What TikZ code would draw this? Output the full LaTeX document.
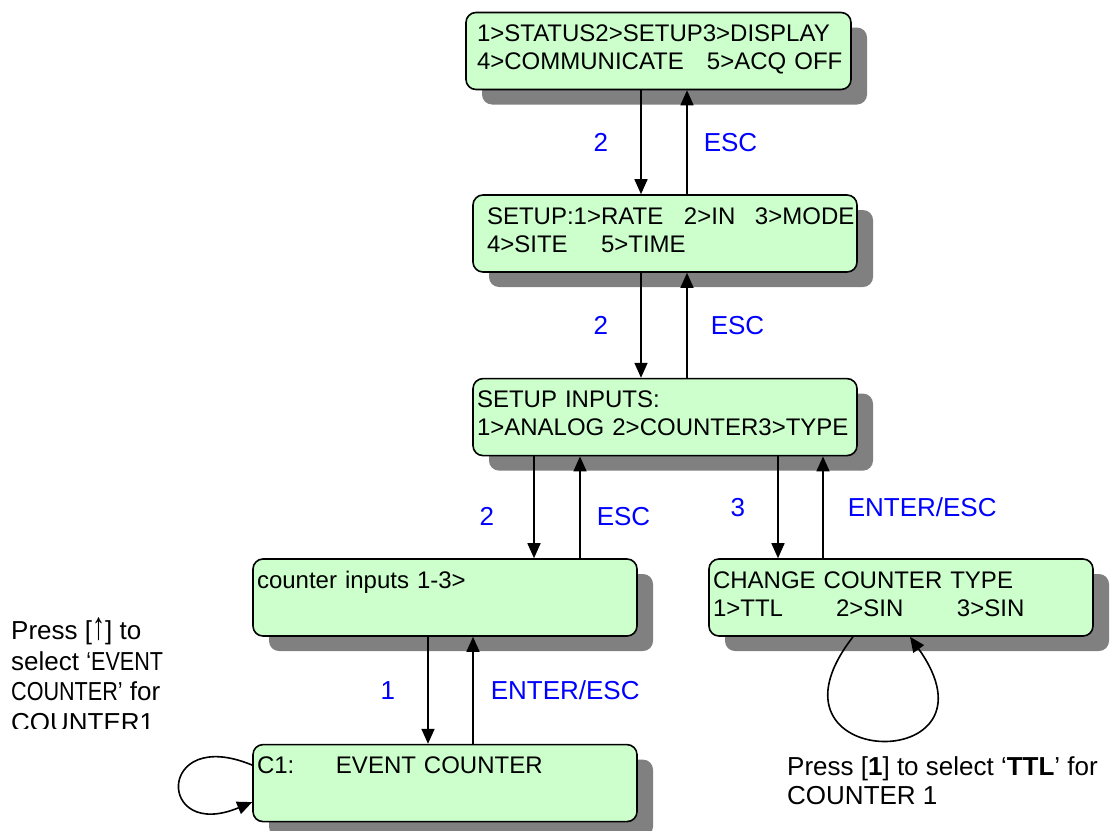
\documentclass[tikz,border=0pt]{standalone}
\usepackage{fontspec}
\setmainfont{Liberation Sans}
\usetikzlibrary{arrows.meta,positioning,shadows}
\definecolor{Mint}{HTML}{CCFFCC}
\definecolor{Shade}{HTML}{808080}
\definecolor{KeyBlue}{HTML}{0000FF}
\newcommand\boxfont{\fontsize{24}{28}\selectfont}
\newcommand\notefont{\fontsize{26}{30.5}\selectfont}
\tikzset{
 box/.style={draw=black,line width=1.6pt,fill=Mint,rounded corners=10pt,align=left,font=\boxfont,text width=376pt,inner xsep=4pt,inner ysep=0pt,text height=29pt,text depth=48pt,minimum height=77pt,drop shadow={shadow xshift=16pt,shadow yshift=-15pt,fill=Shade,opacity=1}},
 key/.style={text=KeyBlue,font=\notefont,inner sep=0pt},
 note/.style={align=left,font=\notefont,inner sep=0pt},
 arr/.style={-{Triangle[length=15pt,width=13pt]},line width=1.6pt}
}
\begin{document}
\begin{tikzpicture}[x=1pt,y=-1pt]
\useasboundingbox (0,0) rectangle (1116,830);
\node[box,inner xsep=11pt,text width=363pt] (main) at (658.5,51) {\mbox{1>STATUS2>SETUP3>DISPLAY}\\\mbox{\makebox[230pt][l]{4>COMMUNICATE}5>ACQ OFF}};
\node[box,inner xsep=14pt,text width=356pt] (setup) at (665,233.5) {\makebox[197pt][l]{SETUP:1>RATE}\makebox[71pt][l]{2>IN}3>MODE\\\makebox[114pt][l]{4>SITE}5>TIME};
\node[box,below=105pt of setup] (inputs) {SETUP INPUTS:\\1>ANALOG 2>COUNTER3>TYPE};
\node[box] (counter) at (445,597.5) {counter inputs 1-3>};
\node[box] (ctype) at (901,597.5) {CHANGE COUNTER TYPE\\\makebox[123pt][l]{1>TTL}\makebox[121pt][l]{2>SIN}3>SIN};
\node[box,below=107pt of counter] (event) {\makebox[79pt][l]{C1:}EVENT COUNTER};
% key presses between the menus
\draw[arr] ([xshift=-17.5pt]main.south) -- node[key,left=32pt] (k1) {2} ([xshift=-24pt]setup.north);
\draw[arr] ([xshift=22pt]setup.north) -- node[key,right=16pt] (k2) {ESC} ([xshift=28.5pt]main.south);
\draw[arr] ([xshift=-24pt]setup.south) -- node[key,left=32pt] (k3) {2} ([xshift=-24pt]inputs.north);
\draw[arr] ([xshift=22pt]inputs.north) -- node[key,right=23pt] (k4) {ESC} ([xshift=22pt]setup.south);
\draw[arr] ([xshift=-131pt]inputs.south) -- node[key,left=39pt,yshift=-9pt] (k5) {2} ([xshift=89pt]counter.north);
\draw[arr] ([xshift=135pt]counter.north) -- node[key,right=16pt,yshift=-9pt] (k6) {ESC} ([xshift=-85pt]inputs.south);
\draw[arr] ([xshift=113pt]inputs.south) -- node[key,left=32pt] (k7) {3} ([xshift=-123pt]ctype.north);
\draw[arr] ([xshift=-78pt]ctype.north) -- node[key,right=24pt] (k8) {ENTER/ESC} ([xshift=158pt]inputs.south);
\draw[arr] ([xshift=-17pt]counter.south) -- node[key,left=32pt] (k9) {1} ([xshift=-17pt]event.north);
\draw[arr] ([xshift=28pt]event.north) -- node[key,right=17pt] (k10) {ENTER/ESC} ([xshift=28pt]counter.south);
% self loops
\draw[arr] ([yshift=18pt]event.west) .. controls +(-96,-40) and +(-96,40) .. ([yshift=-19pt]event.west);
\draw[arr] ([xshift=-48pt]ctype.south) .. controls +(-105,135) and +(100,140) .. ([xshift=9pt]ctype.south);
% hints
\begin{scope}
\clip (0,600) rectangle (330,728);
\node[note,anchor=base west] (hint1) at (11,731) {Press [\scalebox{1}[1.5]{↑}] to\\select \scalebox{.83}[1]{‘EVENT}\\\scalebox{.83}[1]{COUNTER’} for\\COUNTER1};
\end{scope}
\node[note,anchor=base west,font=\fontsize{26}{29}\selectfont] (hint2) at (787,804) {Press [\textbf{1}] to select ‘\textbf{TTL}’ for\\COUNTER 1};
\end{tikzpicture}
\end{document}
